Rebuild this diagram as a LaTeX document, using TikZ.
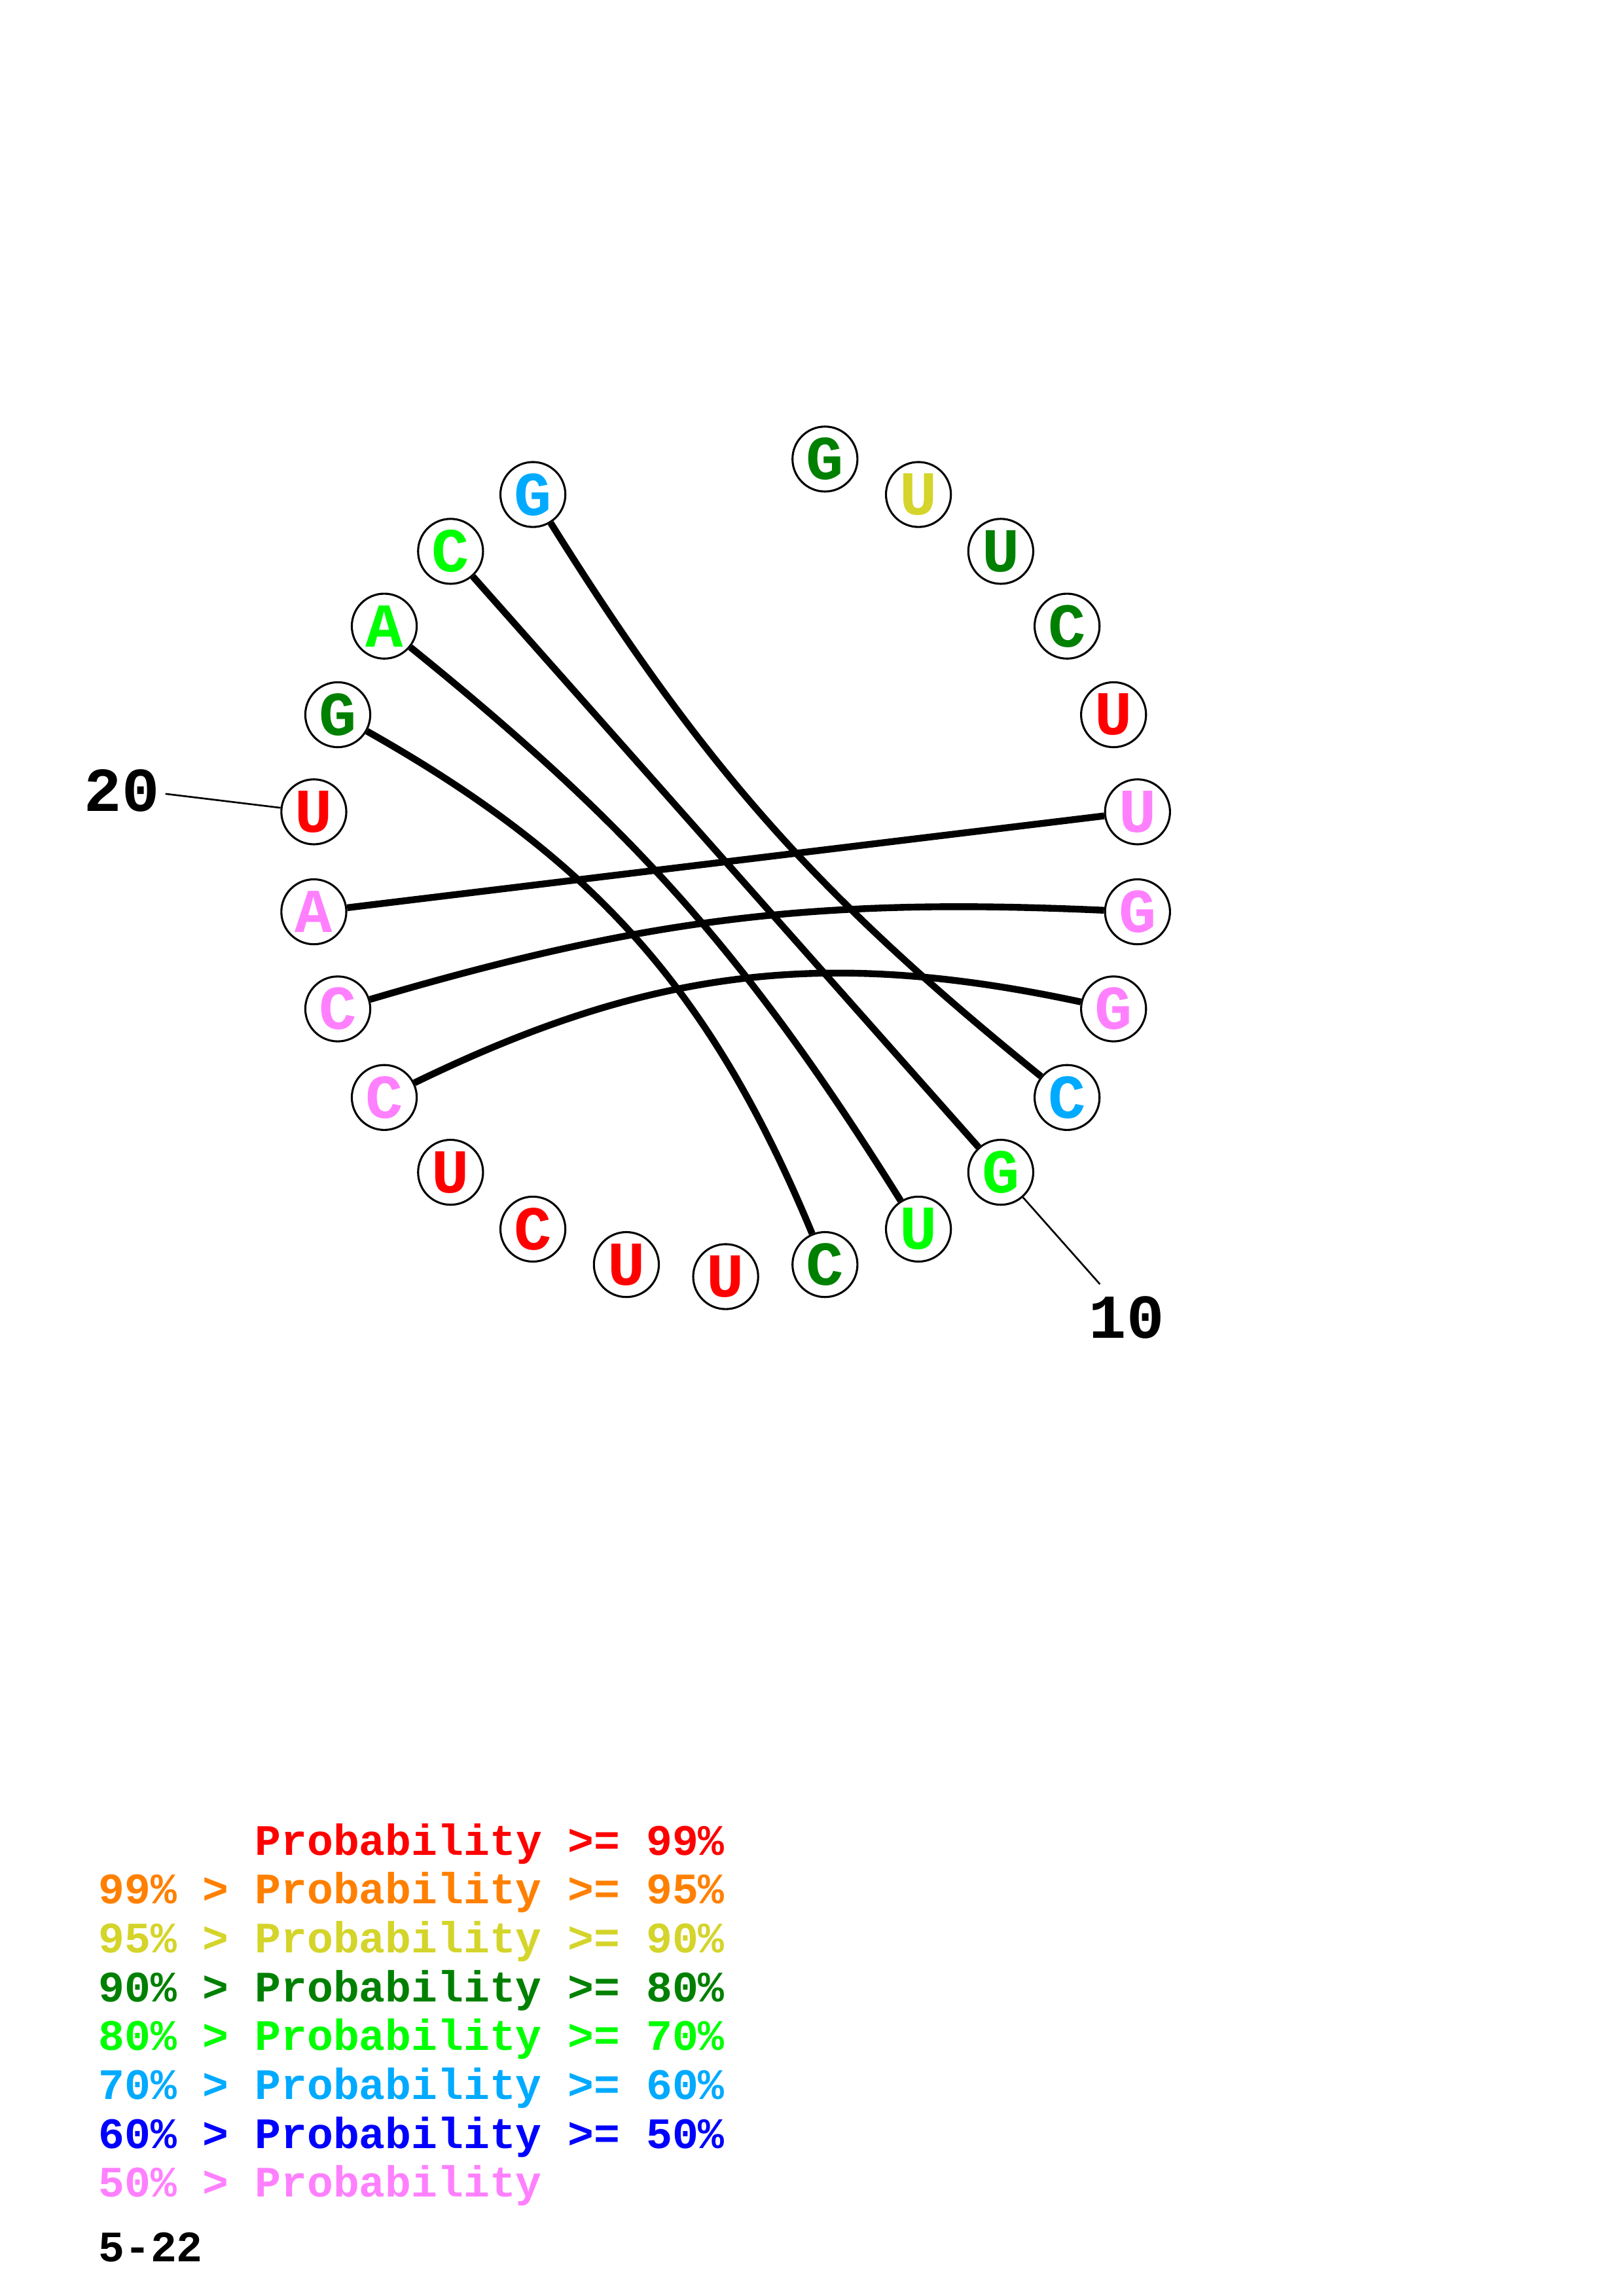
\documentclass[tikz,border=0pt]{standalone}
\usepackage{fontspec}
\setmainfont{Liberation Mono}
\usepackage{tikz}
\usetikzlibrary{shapes}
\usetikzlibrary{arrows.meta}

\definecolor{pred}{RGB}{255,0,0}
\definecolor{porange}{RGB}{255,128,0}
\definecolor{pyellow}{RGB}{212,212,42}
\definecolor{pdgreen}{RGB}{0,128,0}
\definecolor{pgreen}{RGB}{0,255,0}
\definecolor{plblue}{RGB}{0,170,255}
\definecolor{pblue}{RGB}{0,0,255}
\definecolor{ppink}{RGB}{255,128,255}

\begin{document}
\begin{tikzpicture}
	\tikzset{base/.style = {shape=circle,draw,line width=0.75pt,
			minimum size=0.84cm, inner sep=0pt,
			font=\fontsize{23}{23}\selectfont\bfseries}}
	\tikzset{pair/.style = {line width=2.5pt}}
	\tikzset{tick/.style = {line width=0.65pt}}
	\tikzset{num/.style = {inner sep=0pt,
			font=\fontsize{23}{23}\selectfont\bfseries}}
	\tikzset{legend/.style = {anchor=base west, inner sep=0pt,
			font=\fontsize{16}{16}\selectfont\bfseries}}

	\useasboundingbox (-9.386,-18.552) rectangle (11.614,11.148);

	% vertices
	\node[base, text=pdgreen] (n1) at (76.15:5.366) {G};
	\node[base, text=pyellow] (n2) at (62.31:5.366) {U};
	\node[base, text=pdgreen] (n3) at (48.46:5.366) {U};
	\node[base, text=pdgreen] (n4) at (34.62:5.366) {C};
	\node[base, text=pred] (n5) at (20.77:5.366) {U};
	\node[base, text=ppink] (n6) at (6.92:5.366) {U};
	\node[base, text=ppink] (n7) at (-6.92:5.366) {G};
	\node[base, text=ppink] (n8) at (-20.77:5.366) {G};
	\node[base, text=plblue] (n9) at (-34.62:5.366) {C};
	\node[base, text=pgreen] (n10) at (-48.46:5.366) {G};
	\node[base, text=pgreen] (n11) at (-62.31:5.366) {U};
	\node[base, text=pdgreen] (n12) at (-76.15:5.366) {C};
	\node[base, text=pred] (n13) at (-90:5.366) {U};
	\node[base, text=pred] (n14) at (-103.85:5.366) {U};
	\node[base, text=pred] (n15) at (-117.69:5.366) {C};
	\node[base, text=pred] (n16) at (-131.54:5.366) {U};
	\node[base, text=ppink] (n17) at (-145.38:5.366) {C};
	\node[base, text=ppink] (n18) at (-159.23:5.366) {C};
	\node[base, text=ppink] (n19) at (-173.08:5.366) {A};
	\node[base, text=pred] (n20) at (173.08:5.366) {U};
	\node[base, text=pdgreen] (n21) at (159.23:5.366) {G};
	\node[base, text=pgreen] (n22) at (145.38:5.366) {A};
	\node[base, text=pgreen] (n23) at (131.54:5.366) {C};
	\node[base, text=plblue] (n24) at (117.69:5.366) {G};

	% numbering
	\node[num] (l10) at (-48.66:7.85) {10};
	\node[num] (l20) at (173.26:7.865) {20};
	\coordinate (e10) at (-48.46:7.3);
	\coordinate (e20) at (173.08:7.3);
	\draw[tick] (n10) -- (e10);
	\draw[tick] (n20) -- (e20);

	%edges
	\draw[pair] (n6) to (n19);
	\draw[pair, bend right = 9.5] (n7) to (n18);
	\draw[pair, bend right = 19] (n8) to (n17);
	\draw[pair, bend right = 9.5] (n24) to (n9);
	\draw[pair] (n10) to (n23);
	\draw[pair, bend right = 9.5] (n11) to (n22);
	\draw[pair, bend right = 19] (n12) to (n21);

	% legend
	\node[legend, text=pred] (p1) at (-8.12,-12.848) {\phantom{99\% > }Probability >= 99\%};
	\node[legend, text=porange] (p2) at (-8.12,-13.480) {99\% > Probability >= 95\%};
	\node[legend, text=pyellow] (p3) at (-8.12,-14.112) {95\% > Probability >= 90\%};
	\node[legend, text=pdgreen] (p4) at (-8.12,-14.744) {90\% > Probability >= 80\%};
	\node[legend, text=pgreen] (p5) at (-8.12,-15.376) {80\% > Probability >= 70\%};
	\node[legend, text=plblue] (p6) at (-8.12,-16.008) {70\% > Probability >= 60\%};
	\node[legend, text=pblue] (p7) at (-8.12,-16.640) {60\% > Probability >= 50\%};
	\node[legend, text=ppink] (p8) at (-8.12,-17.272) {50\% > Probability};
	\node[legend] (range) at (-8.12,-18.111) {5-22};
\end{tikzpicture}
\end{document}
